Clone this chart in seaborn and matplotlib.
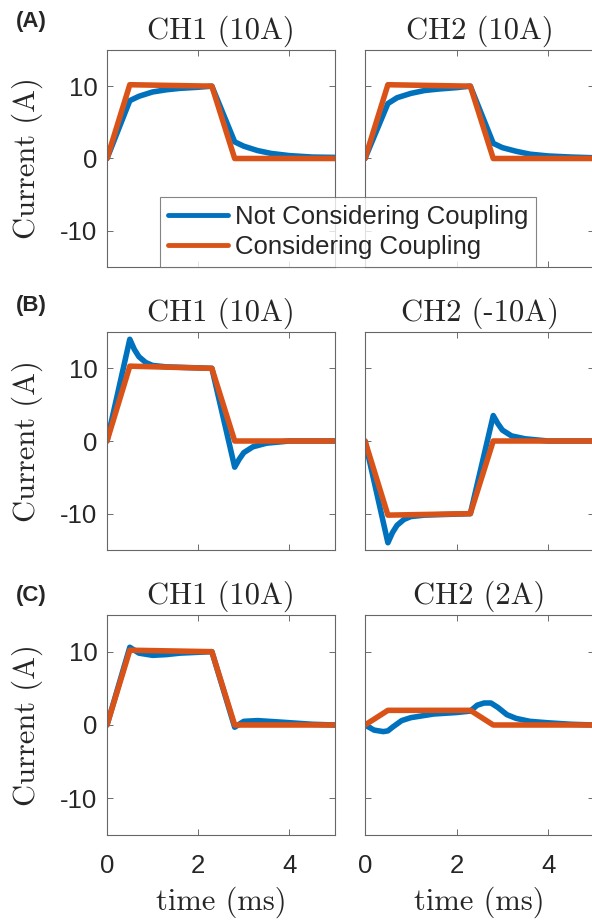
import pandas as pd
import matplotlib
matplotlib.use("Agg")
import matplotlib.pyplot as plt
import seaborn as sns

# time knots (ms) of the "considering coupling" traces
t_coupled = [0, 0.5, 2.3, 2.8, 5.0]
a1_coupled = [0, 10.2, 10.0, 0, 0]
a2_coupled = [0, 10.2, 10.0, 0, 0]
b1_coupled = [0, 10.3, 10.0, 0, 0]
b2_coupled = [0, -10.2, -10.0, 0, 0]
c1_coupled = [0, 10.2, 10.0, 0, 0]
c2_coupled = [0, 2.0, 2.0, 0, 0]

# "not considering coupling" traces
t_a = [0, 0.5, 0.7, 1.0, 1.3, 1.6, 2.0, 2.3, 2.8, 3.0, 3.3, 3.6, 4.0, 4.5, 5.0]
a1_uncoupled = [0, 8.0, 8.6, 9.2, 9.5, 9.7, 9.85, 10.0, 2.3, 1.7, 1.1, 0.7, 0.4, 0.2, 0.15]
a2_uncoupled = [0, 7.6, 8.4, 9.0, 9.4, 9.6, 9.8, 10.0, 2.1, 1.5, 1.0, 0.6, 0.35, 0.2, 0.1]
t_b = [0, 0.5, 0.6, 0.7, 0.85, 1.0, 1.3, 2.3, 2.8, 2.9, 3.0, 3.2, 3.5, 4.0, 5.0]
b1_uncoupled = [0, 14.0, 12.6, 11.6, 10.8, 10.4, 10.2, 10.0, -3.6, -2.5, -1.6, -0.8, -0.3, 0, 0]
b2_uncoupled = [0, -14.0, -12.6, -11.6, -10.8, -10.4, -10.2, -10.0, 3.5, 2.4, 1.5, 0.7, 0.3, 0, 0]
t_c1 = [0, 0.5, 0.7, 1.0, 1.3, 1.6, 2.3, 2.8, 3.0, 3.3, 3.8, 4.5, 5.0]
c1_uncoupled = [0, 10.6, 9.8, 9.5, 9.6, 9.8, 10.0, -0.3, 0.5, 0.6, 0.4, 0.1, 0]
t_c2 = [0, 0.2, 0.4, 0.5, 0.6, 0.8, 1.0, 1.5, 2.0, 2.3, 2.45, 2.6, 2.75, 2.9, 3.1, 3.3, 3.6, 4.0, 4.5, 5.0]
c2_uncoupled = [0, -0.7, -0.9, -0.8, -0.3, 0.6, 1.0, 1.5, 1.7, 1.9, 2.7, 3.0, 3.0, 2.4, 1.4, 0.9, 0.5, 0.3, 0.1, 0]

titles = ["CH1 (10A)", "CH2 (10A)", "CH1 (10A)", "CH2 (-10A)", "CH1 (10A)", "CH2 (2A)"]
panel_letters = ["(A)", "(B)", "(C)"]
series_names = ["Not Considering Coupling", "Considering Coupling"]

panels = [
    (t_a, a1_uncoupled, a1_coupled),
    (t_a, a2_uncoupled, a2_coupled),
    (t_b, b1_uncoupled, b1_coupled),
    (t_b, b2_uncoupled, b2_coupled),
    (t_c1, c1_uncoupled, c1_coupled),
    (t_c2, c2_uncoupled, c2_coupled),
]

blue = "#0072BD"
orange = "#D95319"

sns.set_style("ticks")
plt.rcParams["axes.unicode_minus"] = False
plt.rcParams["font.family"] = ["Liberation Sans", "DejaVu Sans"]
serif = ["cmr10", "DejaVu Serif"]

W, H = 592, 921
fig = plt.figure(figsize=(W / 100, H / 100), dpi=100)

col_x = [107, 365]
col_w = [228, 229]
row_top = [50, 332, 615]
row_h = [217, 218, 220]

for i, (t_unc, unc, coup) in enumerate(panels):
    r, c = divmod(i, 2)
    ax = fig.add_axes([col_x[c] / W, 1 - (row_top[r] + row_h[r]) / H,
                       col_w[c] / W, row_h[r] / H])
    df_unc = pd.DataFrame({"t": t_unc, "I": unc})
    df_coup = pd.DataFrame({"t": t_coupled, "I": coup})
    sns.lineplot(data=df_unc, x="t", y="I", ax=ax, color=blue, lw=4,
                 estimator=None, label=series_names[0], legend=False)
    sns.lineplot(data=df_coup, x="t", y="I", ax=ax, color=orange, lw=4,
                 estimator=None, label=series_names[1], legend=False)
    ax.set_xlim(0, 5)
    ax.set_ylim(-15, 15)
    ax.set_xticks([0, 2, 4])
    ax.set_yticks([-10, 0, 10])
    ax.tick_params(direction="in", top=True, right=True, length=4, width=0.6,
                   color="#555555", labelsize=18.5)
    ax.tick_params(axis="x", pad=14)
    ax.tick_params(axis="y", pad=7)
    for s in ax.spines.values():
        s.set_visible(True)
        s.set_color("#666666")
        s.set_linewidth(0.8)
    ax.set_title(titles[i], fontsize=22, family=serif, pad=8)
    if c == 0:
        ax.set_ylabel("Current (A)", fontsize=22, family=serif)
        ax.yaxis.set_label_coords(-0.28, 0.5)
    else:
        ax.set_ylabel("")
        ax.tick_params(axis="y", labelleft=False)
    if r == 2:
        ax.set_xlabel("time (ms)", fontsize=22, family=serif)
        ax.xaxis.set_label_coords(0.5, -0.235)
    else:
        ax.set_xlabel("")
        ax.tick_params(axis="x", labelbottom=False)
    if i == 0:
        handles, labels = ax.get_legend_handles_labels()

for r, y in zip(range(3), [22, 305, 595]):
    fig.text(16 / W, 1 - y / H, panel_letters[r], fontsize=16, fontweight="bold",
             ha="left", va="center")

leg = fig.legend(handles, labels, loc="lower left",
                 bbox_to_anchor=(160 / W, 1 - 267 / H), borderaxespad=0,
                 fontsize=18.5, frameon=True, fancybox=False, borderpad=0.3,
                 handlelength=2.35, handletextpad=0.25, labelspacing=0.25)
leg.get_frame().set_edgecolor("#666666")
leg.get_frame().set_linewidth(0.8)
for line in leg.get_lines():
    line.set_linewidth(3.5)

fig.savefig("out.png", dpi=100)
